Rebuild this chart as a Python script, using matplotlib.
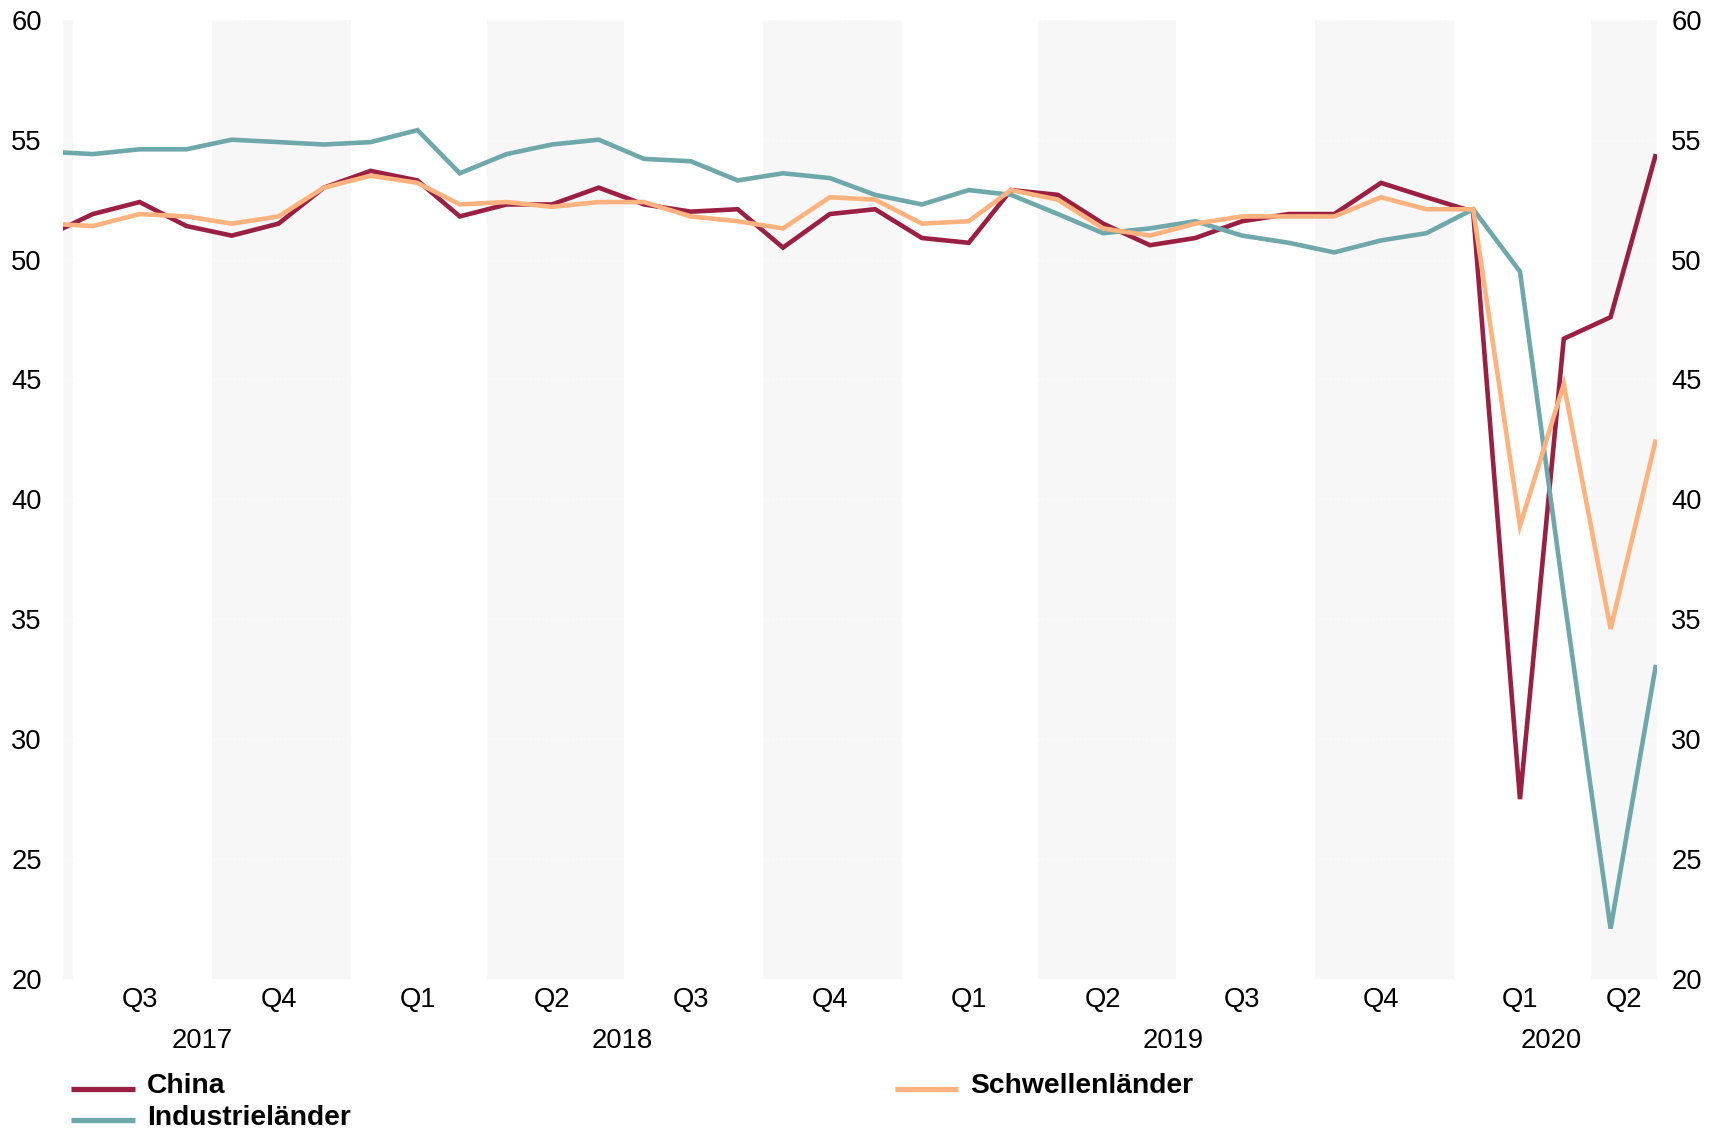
import matplotlib
matplotlib.use("Agg")
import matplotlib.pyplot as plt
from matplotlib.lines import Line2D
import pandas as pd
import numpy as np

# ---------------- data (monthly, Jun 2017 - May 2020) ----------------
months = pd.date_range("2017-06-01", "2020-05-01", freq="MS") + pd.Timedelta(days=13)

china = [51.0, 51.9, 52.4, 51.4, 51.0, 51.5, 53.0, 53.7, 53.3, 51.8, 52.3, 52.3,
         53.0, 52.3, 52.0, 52.1, 50.5, 51.9, 52.1, 50.9, 50.7, 52.9, 52.7, 51.5,
         50.6, 50.9, 51.6, 51.9, 51.9, 53.2, 52.6, 52.0, 27.5, 46.7, 47.6, 54.4]
industrie = [54.5, 54.4, 54.6, 54.6, 55.0, 54.9, 54.8, 54.9, 55.4, 53.6, 54.4, 54.8,
             55.0, 54.2, 54.1, 53.3, 53.6, 53.4, 52.7, 52.3, 52.9, 52.7, 51.9, 51.1,
             51.3, 51.6, 51.0, 50.7, 50.3, 50.8, 51.1, 52.1, 49.5, 36.0, 22.1, 33.1]
schwellen = [51.5, 51.4, 51.9, 51.8, 51.5, 51.8, 53.0, 53.5, 53.2, 52.3, 52.4, 52.2,
             52.4, 52.4, 51.8, 51.6, 51.3, 52.6, 52.5, 51.5, 51.6, 52.9, 52.5, 51.3,
             51.0, 51.5, 51.8, 51.8, 51.8, 52.6, 52.1, 52.1, 38.9, 44.8, 34.6, 42.5]

series_names = ["China", "Industrieländer", "Schwellenländer"]
series_colors = ["#9B1F42", "#6EA8AA", "#FFB27D"]
y_ticks = [20, 25, 30, 35, 40, 45, 50, 55, 60]

# ---------------- figure ----------------
W, H = 1721, 1131
plt.rcParams['font.family'] = ['Liberation Sans', 'DejaVu Sans']
FS = 19.7
FS_LEG = 20.3

fig = plt.figure(figsize=(W / 100, H / 100), dpi=100)
L, R, T, B = 62.6, 1657.4, 19.8, 979.0
ax = fig.add_axes([L / W, 1 - B / H, (R - L) / W, (B - T) / H])

x0 = pd.Timestamp("2017-06-24")
x1 = pd.Timestamp("2020-05-15")
ax.set_xlim(x0, x1)
ax.set_ylim(20, 60)

# quarter shading (Q2 and Q4)
quarters = pd.period_range("2017Q2", "2020Q2", freq="Q")
for q in quarters:
    if q.quarter in (2, 4):
        ax.axvspan(q.start_time, q.end_time + pd.Timedelta(seconds=1),
                   color="#F7F7F7", zorder=0.1, lw=0)

# lines
for vals, name, col in zip([china, industrie, schwellen], series_names, series_colors):
    ax.plot(months, vals, color=col, lw=3.3, zorder=3, solid_joinstyle="miter",
            solid_capstyle="butt", label=name)

# grid
ax.set_axisbelow("line")
ax.yaxis.grid(True, color="white", linestyle=(0, (1, 2)), linewidth=1.0)
ax.xaxis.grid(False)

for s in ax.spines.values():
    s.set_visible(False)

ax.set_yticks(y_ticks)
ax.set_yticklabels([str(v) for v in y_ticks])
ax.tick_params(axis="y", length=0, pad=15, labelsize=FS)
ax.set_xticks([])

ax2 = ax.twinx()
ax2.set_ylim(ax.get_ylim())
ax2.set_yticks(y_ticks)
ax2.set_yticklabels([str(v) for v in y_ticks])
ax2.tick_params(axis="y", length=0, pad=10, labelsize=FS)
for s in ax2.spines.values():
    s.set_visible(False)

# quarter labels
trans = ax.get_xaxis_transform()
yq = (B - 1006.5) / (B - T)
yy = (B - 1047.5) / (B - T)
for q in quarters:
    if q < pd.Period("2017Q3", freq="Q"):
        continue
    qs, qe = q.start_time, q.end_time
    if qs >= x0 and qe <= x1:
        pos = qs + pd.DateOffset(months=1) + pd.Timedelta(days=13)
    else:
        a, b = max(qs, x0), min(qe, x1)
        pos = a + (b - a) / 2
    ax.text(pos, yq, f"Q{q.quarter}", transform=trans, ha="center", va="baseline",
            fontsize=FS)

for yr in [2017, 2018, 2019, 2020]:
    a = max(pd.Timestamp(f"{yr}-01-01"), x0)
    b = min(pd.Timestamp(f"{yr + 1}-01-01"), x1)
    pos = a + (b - a) / 2 - pd.Timedelta(days=3)
    ax.text(pos, yy, str(yr), transform=trans, ha="center", va="baseline", fontsize=FS)

# legend (manual, two columns)
legend_items = [
    (series_names[0], series_colors[0], 71.0, 135.0, 146.7, 1089.3, 1092.7),
    (series_names[1], series_colors[1], 71.0, 135.0, 146.7, 1120.0, 1125.0),
    (series_names[2], series_colors[2], 895.0, 958.0, 970.6, 1089.3, 1093.0),
]
for name, col, hx0, hx1, tx, hy, ty in legend_items:
    fig.add_artist(Line2D([hx0 / W, hx1 / W], [1 - hy / H, 1 - hy / H],
                          transform=fig.transFigure, color=col, lw=3.8,
                          solid_capstyle="butt"))
    fig.text(tx / W, 1 - ty / H, name, ha="left", va="baseline", fontsize=FS_LEG,
             fontweight="bold")

fig.savefig("out.png", dpi=100)
